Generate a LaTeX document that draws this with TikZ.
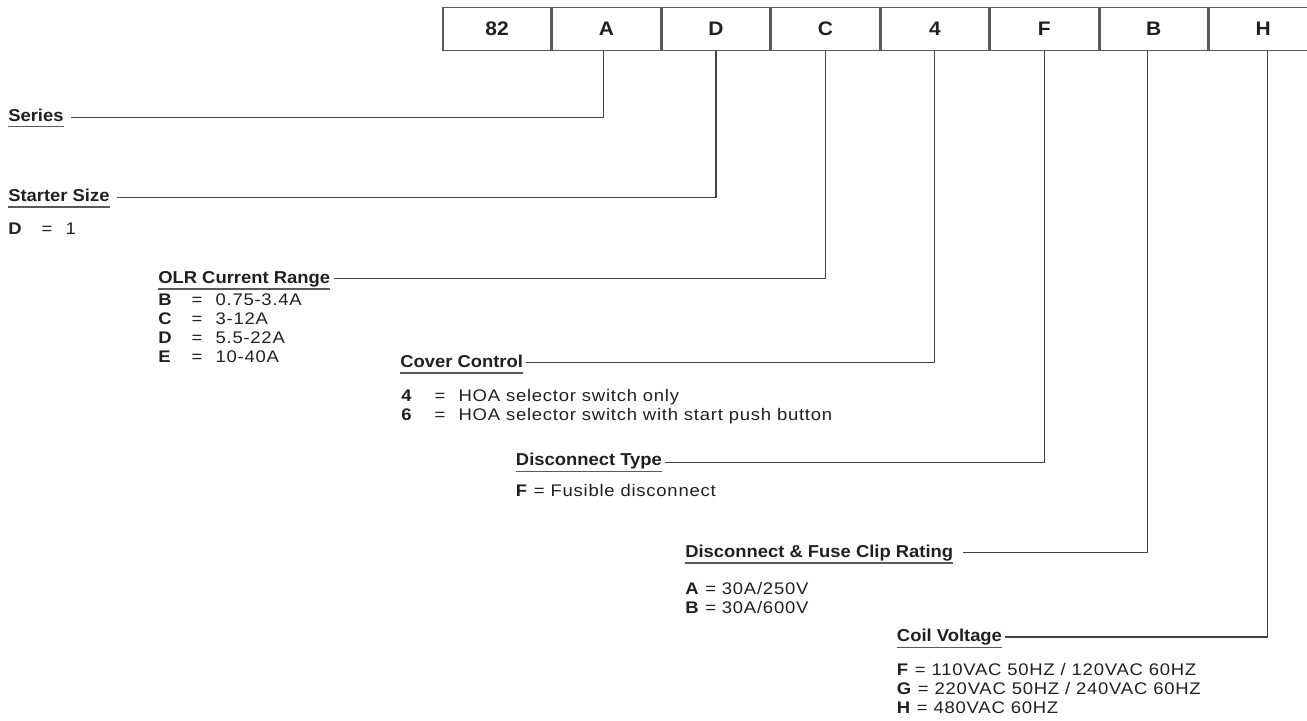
\documentclass[tikz,border=0pt]{standalone}
\usepackage{fontspec}
\setmainfont{Liberation Sans}[FakeStretch=1.1,LetterSpace=4.5]
\newfontfamily\headfont{Liberation Sans}[FakeStretch=1.07]
\usetikzlibrary{positioning}
\definecolor{catink}{HTML}{231F20}
\definecolor{catgray}{HTML}{5A5A5A}
\newcommand{\catopt}[2]{\makebox[25pt][l]{\bfseries #1}\makebox[18pt][l]{=}#2}
\tikzset{
  catcell/.style={draw=catgray, line width=1.1pt, minimum width=81pt, minimum height=32.25pt, inner sep=0pt, text=catink, font=\headfont\bfseries\fontsize{14.7}{17}\selectfont},
  cathead/.style={anchor=base west, inner sep=0pt, text=catink, font=\headfont\bfseries\fontsize{12.9}{15}\selectfont},
  catlist/.style={anchor=base west, inner sep=0pt, align=left, text=catink, font=\fontsize{12.6}{14.25}\selectfont},
  catline/.style={draw=catink!85, line width=0.9pt},
  catrule/.style={draw=catgray, line width=1.1pt}
}
\begin{document}
\begin{tikzpicture}[x=0.75pt, y=-0.75pt]
\useasboundingbox (0,0) rectangle (1307,721);
% code boxes
\node[catcell] (c1) at (497,28.8) {82};
\foreach \t [count=\i from 2, evaluate=\i as \j using int(\i-1)] in {A,D,C,4,F,B,H}
  \node[catcell, right=0pt of c\j] (c\i) {\t};
% headings and options (lists sit on their last baseline)
\node[cathead] (series) at (8,121) {Series};
\node[cathead] (size) at (8,201.5) {Starter Size};
\node[catlist] (sizeopt) at (8,234) {\catopt{D}{1}};
\node[cathead] (olr) at (158,283.3) {OLR Current Range};
\node[catlist] (olropt) at (158,362) {\catopt{B}{0.75-3.4A}\\ \catopt{C}{3-12A}\\ \catopt{D}{5.5-22A}\\ \catopt{E}{10-40A}};
\node[cathead] (cover) at (400,367.3) {Cover Control};
\node[catlist] (coveropt) at (401,420.5) {\catopt{4}{HOA selector switch only}\\ \catopt{6}{HOA selector switch with start push button}};
\node[cathead] (disc) at (515.7,465.7) {Disconnect Type};
\node[catlist] (discopt) at (515.7,496.7) {\textbf{F} = Fusible disconnect};
\node[cathead] (clip) at (685,557.3) {Disconnect \& Fuse Clip Rating};
\node[catlist] (clipopt) at (685,613.5) {\textbf{A} = 30A/250V\\ \textbf{B} = 30A/600V};
\node[cathead] (coil) at (896.7,641.7) {Coil Voltage};
\node[catlist] (coilopt) at (896.7,713.3) {\textbf{F} = 110VAC 50HZ / 120VAC 60HZ\\ \textbf{G} = 220VAC 50HZ / 240VAC 60HZ\\ \textbf{H} = 480VAC 60HZ};
% underlines
\foreach \h in {series,size,olr,cover,disc,clip,coil}
  \draw[catrule] ([yshift=-4.2pt]\h.base west) -- ([yshift=-4.2pt]\h.base east);
% leader lines
\draw[catline] ([xshift=5.5pt,yshift=2.4pt]series.base east) -| ([xshift=-2.2pt]c2.south);
\draw[catline] ([xshift=5.5pt,yshift=3pt]size.base east) -| (c3.south);
\draw[catline] ([xshift=2.4pt,yshift=3.6pt]olr.base east) -| (c4.south);
\draw[catline] ([xshift=2.4pt,yshift=3.4pt]cover.base east) -| (c5.south);
\draw[catline] ([xshift=2.4pt,yshift=2.4pt]disc.base east) -| (c6.south);
\draw[catline] ([xshift=7.5pt,yshift=3.4pt]clip.base east) -| ([xshift=-5pt]c7.south);
\draw[catline] ([xshift=2.4pt,yshift=3.6pt]coil.base east) -| ([xshift=3pt]c8.south);
\end{tikzpicture}
\end{document}
